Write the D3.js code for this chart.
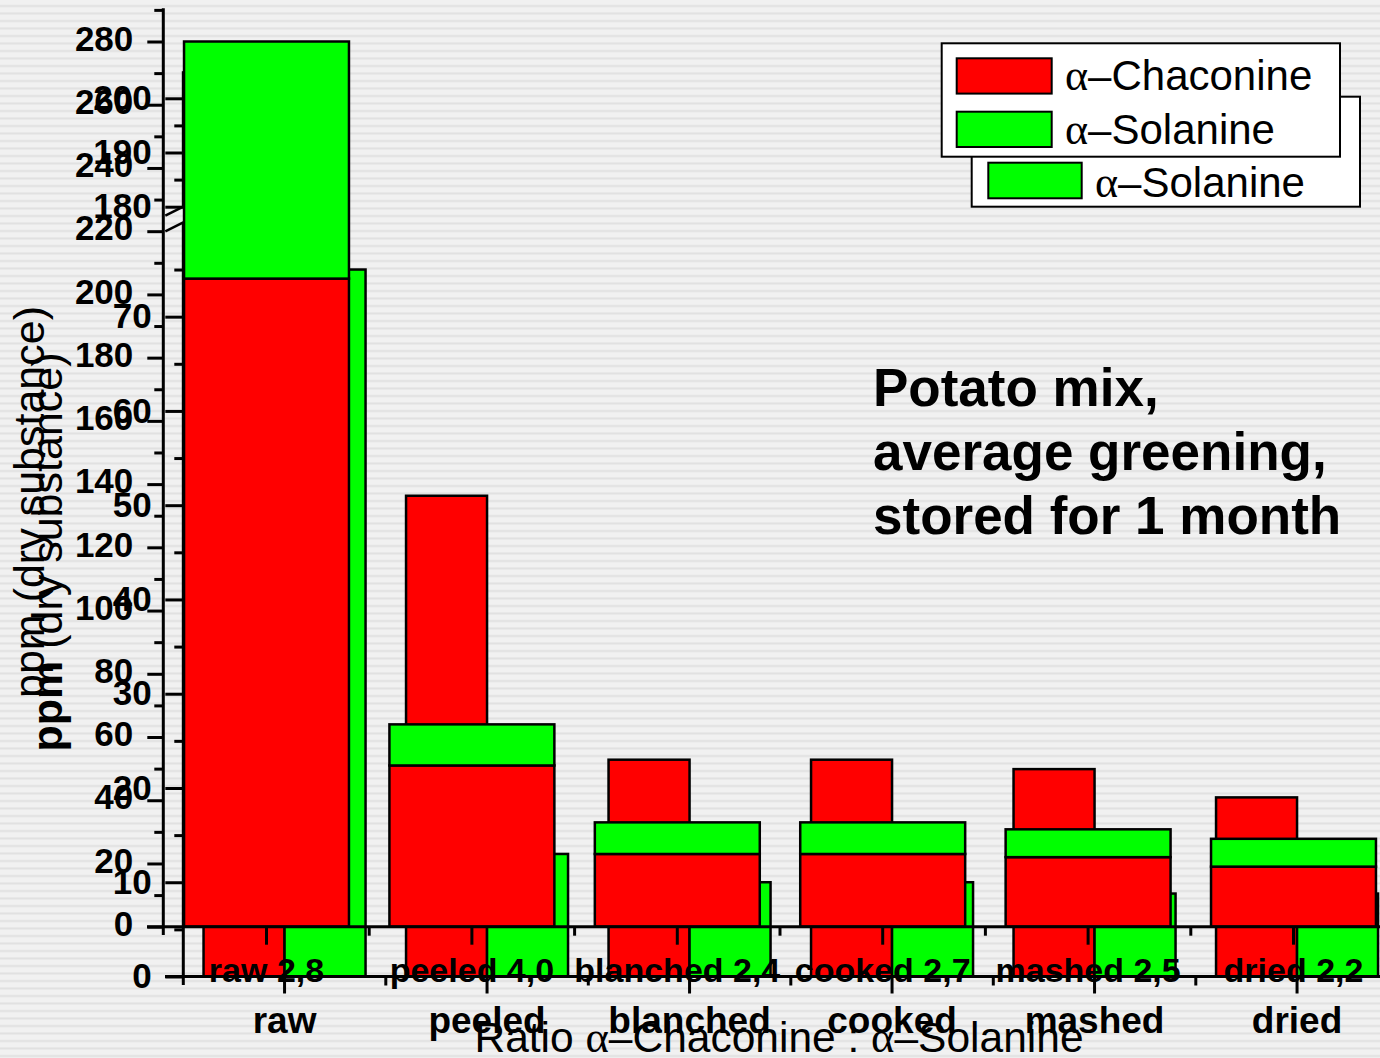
<!DOCTYPE html>
<html>
<head>
<meta charset="utf-8">
<script src="https://cdn.jsdelivr.net/npm/d3@7"></script>
<style>
  html, body { margin: 0; padding: 0; background: #f0f0f0; overflow: hidden; }
  text { font-family: "Liberation Sans", Arial, sans-serif; fill: #000; }
  .greek { font-family: "Liberation Serif", "DejaVu Serif", serif; }
</style>
</head>
<body>
<svg id="chart" width="1380" height="1058"></svg>
<script>
// Processing steps and the ratio labels under them
const categories = ["raw", "peeled", "blanched", "cooked", "mashed", "dried"];
const ratioLabels = ["raw 2,8", "peeled 4,0", "blanched 2,4", "cooked 2,7", "mashed 2,5", "dried 2,2"];

// Glycoalkaloid content, ppm (dry substance)
const chaconine = [205, 51, 23, 23, 22, 19];
const solanine = [75, 13, 10, 10, 8.8, 8.8];

// Axis ticks
const stackedMajorTicks = [0, 20, 40, 60, 80, 100, 120, 140, 160, 180, 200, 220, 240, 260, 280];
const stackedMinorTicks = [10, 30, 50, 70, 90, 110, 130, 150, 170, 190, 210, 230, 250, 270, 290];
const groupedMajorTicks = [0, 10, 20, 30, 40, 50, 60, 70, 180, 190, 200];
const groupedMinorTicks = [5, 15, 25, 35, 45, 55, 65, 75, 185, 195];

const RED = "#ff0000", GREEN = "#00ff00";
const svg = d3.select("#chart");

// striped grey backdrop
const defs = svg.append("defs");
const pat = defs.append("pattern").attr("id", "stripes")
  .attr("patternUnits", "userSpaceOnUse").attr("width", 10).attr("height", 7.5);
pat.append("rect").attr("width", 10).attr("height", 7.5).attr("fill", "#f1f1f1");
pat.append("rect").attr("y", 5).attr("width", 10).attr("height", 2).attr("fill", "#e1e1e1");
svg.append("rect").attr("width", 1380).attr("height", 1058).attr("fill", "url(#stripes)");

function alphaLabel(sel, name) {
  sel.append("tspan").attr("class", "greek").attr("font-size", "1.05em").text("α");
  sel.append("tspan").text("–" + name);
}

/* ---------- grouped chart with broken axis (drawn underneath) ---------- */
const gB = svg.append("g");
const xB = d3.scaleBand().domain(categories).range([183.3, 1398.3]);
const yB = d3.scaleLinear().domain([0, 80, 180, 205]).range([976.5, 222.4, 206.7, 71.2]);
const halfB = xB.step() * 0.4;
const centerB = c => xB(c) + xB.step() / 2;

categories.forEach((c, i) => {
  gB.append("rect")
    .attr("x", centerB(c) - halfB).attr("width", halfB)
    .attr("y", yB(chaconine[i])).attr("height", yB(0) - yB(chaconine[i]))
    .attr("fill", RED).attr("stroke", "#000").attr("stroke-width", 2.5);
  gB.append("rect")
    .attr("x", centerB(c)).attr("width", halfB)
    .attr("y", yB(solanine[i])).attr("height", yB(0) - yB(solanine[i]))
    .attr("fill", GREEN).attr("stroke", "#000").attr("stroke-width", 2.5);
});

const axB = 183.3;
// y axis of grouped chart
const yAxisB = gB.append("g").attr("transform", `translate(${axB},0)`)
  .call(d3.axisLeft(yB).tickValues(groupedMajorTicks).tickSize(18).tickPadding(13.6).tickFormat(d3.format("d")));
yAxisB.select(".domain").remove();
yAxisB.selectAll("line").attr("stroke-width", 3);
yAxisB.selectAll("text").attr("font-size", 35).attr("font-weight", "bold").attr("font-family", null);
const yAxisBm = gB.append("g").attr("transform", `translate(${axB},0)`)
  .call(d3.axisLeft(yB).tickValues(groupedMinorTicks).tickSize(9).tickFormat(""));
yAxisBm.select(".domain").remove();
yAxisBm.selectAll("line").attr("stroke-width", 3);
// axis segments with a break between them
gB.append("line").attr("x1", axB).attr("x2", axB).attr("y1", 985).attr("y2", yB(80)).attr("stroke", "#000").attr("stroke-width", 3);
gB.append("line").attr("x1", axB).attr("x2", axB).attr("y1", yB(180)).attr("y2", yB(205)).attr("stroke", "#000").attr("stroke-width", 3);
[yB(80), yB(180)].forEach(y => {
  gB.append("line").attr("x1", axB - 18).attr("y1", y + 9).attr("x2", axB + 18).attr("y2", y - 9)
    .attr("stroke", "#000").attr("stroke-width", 2.5);
});

// x axis of grouped chart
gB.append("line").attr("x1", 165).attr("x2", 1380).attr("y1", yB(0)).attr("y2", yB(0)).attr("stroke", "#000").attr("stroke-width", 3);
const xAxisB = gB.append("g").attr("transform", `translate(0,${yB(0)})`)
  .call(d3.axisBottom(xB).tickSize(17).tickPadding(0));
xAxisB.select(".domain").remove();
xAxisB.selectAll("line").attr("stroke-width", 3);
xAxisB.selectAll("text").attr("y", 56).attr("dy", 0).attr("font-size", 37).attr("font-weight", "bold").attr("font-family", null);
categories.slice(1).forEach(c => {
  gB.append("line").attr("x1", xB(c)).attr("x2", xB(c)).attr("y1", yB(0)).attr("y2", yB(0) + 9)
    .attr("stroke", "#000").attr("stroke-width", 3);
});

// y title of grouped chart
gB.append("text").attr("transform", "translate(44,502) rotate(-90)")
  .attr("text-anchor", "middle").attr("font-size", 43).text("ppm (dry substance)");

// legend of grouped chart
const lgB = gB.append("g");
lgB.append("rect").attr("x", 971.7).attr("y", 96.7).attr("width", 388.3).attr("height", 110)
  .attr("fill", "#fff").attr("stroke", "#000").attr("stroke-width", 2);
[[RED, "Chaconine", 109], [GREEN, "Solanine", 162.7]].forEach(([col, name, y]) => {
  lgB.append("rect").attr("x", 988.3).attr("y", y).attr("width", 93.4).attr("height", 35.6)
    .attr("fill", col).attr("stroke", "#000").attr("stroke-width", 2);
  lgB.append("text").attr("x", 1095).attr("y", y + 34).attr("font-size", 42).call(alphaLabel, name);
});

/* ---------- stacked chart (drawn on top) ---------- */
const gF = svg.append("g");
const xF = d3.scaleBand().domain(categories).range([163.8, 1396.2]);
const yF = d3.scaleLinear().domain([0, 280]).range([926.7, 41.5]);
const halfF = xF.step() * 0.4015;
const centerF = c => xF(c) + xF.step() / 2;

categories.forEach((c, i) => {
  const total = chaconine[i] + solanine[i];
  gF.append("rect")
    .attr("x", centerF(c) - halfF).attr("width", 2 * halfF)
    .attr("y", yF(chaconine[i])).attr("height", yF(0) - yF(chaconine[i]))
    .attr("fill", RED).attr("stroke", "#000").attr("stroke-width", 2.5);
  gF.append("rect")
    .attr("x", centerF(c) - halfF).attr("width", 2 * halfF)
    .attr("y", yF(total)).attr("height", yF(chaconine[i]) - yF(total))
    .attr("fill", GREEN).attr("stroke", "#000").attr("stroke-width", 2.5);
});

const axF = 163.3;
const yAxisF = gF.append("g").attr("transform", `translate(${axF},0)`)
  .call(d3.axisLeft(yF).tickValues(stackedMajorTicks).tickSize(16).tickPadding(14).tickFormat(d3.format("d")));
yAxisF.select(".domain").remove();
yAxisF.selectAll("line").attr("stroke-width", 3);
yAxisF.selectAll("text").attr("font-size", 35).attr("font-weight", "bold").attr("font-family", null).attr("dy", "0.25em");
const yAxisFm = gF.append("g").attr("transform", `translate(${axF},0)`)
  .call(d3.axisLeft(yF).tickValues(stackedMinorTicks).tickSize(9).tickFormat(""));
yAxisFm.select(".domain").remove();
yAxisFm.selectAll("line").attr("stroke-width", 3);
gF.append("line").attr("x1", axF).attr("x2", axF).attr("y1", 935).attr("y2", yF(290.5)).attr("stroke", "#000").attr("stroke-width", 3);

gF.append("line").attr("x1", 147).attr("x2", 1380).attr("y1", yF(0)).attr("y2", yF(0)).attr("stroke", "#000").attr("stroke-width", 3);
const xAxisF = gF.append("g").attr("transform", `translate(0,${yF(0)})`)
  .call(d3.axisBottom(xF).tickSize(18).tickPadding(0).tickFormat((d, i) => ratioLabels[i]));
xAxisF.select(".domain").remove();
xAxisF.selectAll("line").attr("stroke-width", 3);
xAxisF.selectAll("text").attr("y", 55.3).attr("dy", 0).attr("font-size", 34).attr("font-weight", "bold").attr("font-family", null);
categories.slice(1).forEach(c => {
  gF.append("line").attr("x1", xF(c)).attr("x2", xF(c)).attr("y1", yF(0)).attr("y2", yF(0) + 9)
    .attr("stroke", "#000").attr("stroke-width", 3);
});

// x title
const xt = gF.append("text").attr("x", 779).attr("y", 1052).attr("text-anchor", "middle").attr("font-size", 42.5);
xt.append("tspan").text("Ratio ");
xt.append("tspan").attr("class", "greek").attr("font-size", "1.05em").text("α");
xt.append("tspan").text("–Chaconine : ");
xt.append("tspan").attr("class", "greek").attr("font-size", "1.05em").text("α");
xt.append("tspan").text("–Solanine");

// y title (bold unit)
const yt = gF.append("text").attr("transform", "translate(62,552) rotate(-90)")
  .attr("text-anchor", "middle").attr("font-size", 43);
yt.append("tspan").attr("font-weight", "bold").text("ppm");
yt.append("tspan").text(" (dry substance)");

// legend of stacked chart
const lgF = gF.append("g");
lgF.append("rect").attr("x", 941.7).attr("y", 43.3).attr("width", 398.3).attr("height", 113.4)
  .attr("fill", "#fff").attr("stroke", "#000").attr("stroke-width", 2);
[[RED, "Chaconine", 58.3], [GREEN, "Solanine", 111.7]].forEach(([col, name, y]) => {
  lgF.append("rect").attr("x", 956.7).attr("y", y).attr("width", 95).attr("height", 35.3)
    .attr("fill", col).attr("stroke", "#000").attr("stroke-width", 2);
  lgF.append("text").attr("x", 1065).attr("y", y + 32).attr("font-size", 42).call(alphaLabel, name);
});

// annotation
const note = ["Potato mix,", "average greening,", "stored for 1 month"];
gF.append("g").selectAll("text").data(note).join("text")
  .attr("x", 873).attr("y", (d, i) => 406 + i * 64)
  .attr("font-size", 53).attr("font-weight", "bold").text(d => d);
</script>
</body>
</html>
